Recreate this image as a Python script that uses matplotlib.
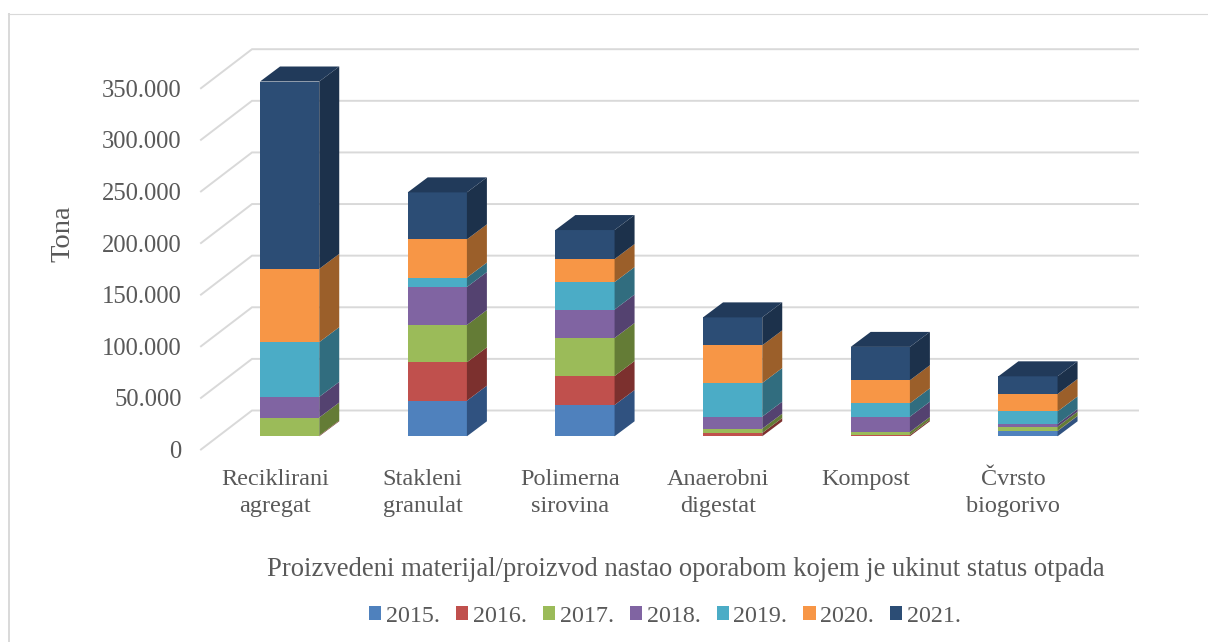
import matplotlib
matplotlib.use('Agg')
import matplotlib.pyplot as plt
from matplotlib.patches import Patch, Polygon
from matplotlib.lines import Line2D
from matplotlib.ticker import FuncFormatter

plt.rcParams['font.family'] = ['Liberation Serif', 'DejaVu Serif']

categories = ['Reciklirani\nagregat', 'Stakleni\ngranulat', 'Polimerna\nsirovina',
              'Anaerobni\ndigestat', 'Kompost', 'Čvrsto\nbiogorivo']
years = ['2015.', '2016.', '2017.', '2018.', '2019.', '2020.', '2021.']

# tonnes per year
y2015 = [0, 34500, 30300, 0, 0, 5100]
y2016 = [700, 37200, 28100, 3200, 1300, 300]
y2017 = [17500, 36100, 36800, 4200, 2900, 3900]
y2018 = [20000, 36800, 27600, 11600, 14800, 2600]
y2019 = [53000, 9200, 26600, 32600, 13000, 12200]
y2020 = [71000, 37000, 22300, 36500, 22300, 16900]
y2021 = [181500, 45500, 28100, 27100, 32300, 17100]
series = [y2015, y2016, y2017, y2018, y2019, y2020, y2021]

front_colors = ['#4f81bd', '#c0504d', '#9bbb59', '#8064a2', '#4bacc6', '#f79646', '#2c4d75']
side_colors = ['#305280', '#7c302e', '#647c36', '#544270', '#316d7f', '#9b5f2a', '#1c314b']
top_color = '#213a5a'
grid_color = '#d9d9d9'
text_color = '#595959'

fig = plt.figure(figsize=(12.08, 6.42), dpi=100)
W, H = 1208, 642
ax = fig.add_axes([201 / W, 1 - 449.5 / H, 886 / W, 361.3 / H])
ax.set_xlim(-0.5, 5.5)
ax.set_ylim(0, 350000)
ax.patch.set_visible(False)
for s in ax.spines.values():
    s.set_visible(False)

# pixel sizes expressed in data units
px_x = 6 / 886
px_y = 350000 / 361.3


def poly(pts, color, z):
    ax.add_patch(Polygon(pts, closed=True, facecolor=color, edgecolor='none',
                         clip_on=False, zorder=z))


# walls of the 3d box
wall_dx = 51 * px_x
wall_dy = 39 * px_y
for v in range(0, 350001, 50000):
    ax.plot([-0.5, -0.5 + wall_dx, 5.5 + wall_dx], [v, v + wall_dy, v + wall_dy],
            color=grid_color, lw=1.4, clip_on=False, zorder=1, solid_joinstyle='miter')

# bars, front plane sits part way into the box
bar_w = 59.2 * px_x
shift_x = 14.8 * px_x
shift_y = 13.2 * px_y
depth_x = 20 * px_x
depth_y = 15 * px_y
for i in range(len(categories)):
    x0 = i + shift_x - bar_w / 2
    x1 = x0 + bar_w
    base = shift_y
    for vals, fc, sc in zip(series, front_colors, side_colors):
        v = vals[i]
        if v == 0:
            continue
        top = base + v
        poly([(x0, base), (x1, base), (x1, top), (x0, top)], fc, 3)
        poly([(x1, base), (x1 + depth_x, base + depth_y),
              (x1 + depth_x, top + depth_y), (x1, top)], sc, 3)
        base = top
    poly([(x0, base), (x1, base), (x1 + depth_x, base + depth_y),
          (x0 + depth_x, base + depth_y)], top_color, 3)

ax.set_yticks(range(0, 350001, 50000))
ax.yaxis.set_major_formatter(FuncFormatter(lambda v, p: f'{int(v):,}'.replace(',', '.')))
ax.set_xticks(range(len(categories)))
ax.set_xticklabels(categories, linespacing=1.38)
ax.tick_params(axis='y', length=0, pad=14, labelsize=17.7, labelcolor=text_color)
ax.tick_params(axis='x', length=0, pad=14, labelsize=17.5, labelcolor=text_color)

ax.set_xlabel('Proizvedeni materijal/proizvod nastao oporabom kojem je ukinut status otpada',
              fontsize=19.2, color=text_color, va='center')
ax.xaxis.set_label_coords(0.547, -0.333)
ax.set_ylabel('Tona', fontsize=20.5, color=text_color, va='center')
ax.yaxis.set_label_coords(-0.156, 0.597)

handles = [Patch(facecolor=c, edgecolor='none') for c in front_colors]
fig.legend(handles, years, ncol=7, frameon=False, loc='center',
           bbox_to_anchor=(665 / W, 1 - 616 / H), fontsize=17.3, labelcolor=text_color,
           handlelength=0.5, handleheight=0.5, handletextpad=0.2, columnspacing=0.67)

# chart frame, runs off the bottom and right of the picture
fig.add_artist(Line2D([9 / W, 9 / W], [0, 1 - 13.5 / H], color=grid_color, lw=1.4))
fig.add_artist(Line2D([8 / W, 1], [1 - 13.5 / H, 1 - 13.5 / H], color=grid_color, lw=0.8))

fig.savefig('out.png', dpi=100)
